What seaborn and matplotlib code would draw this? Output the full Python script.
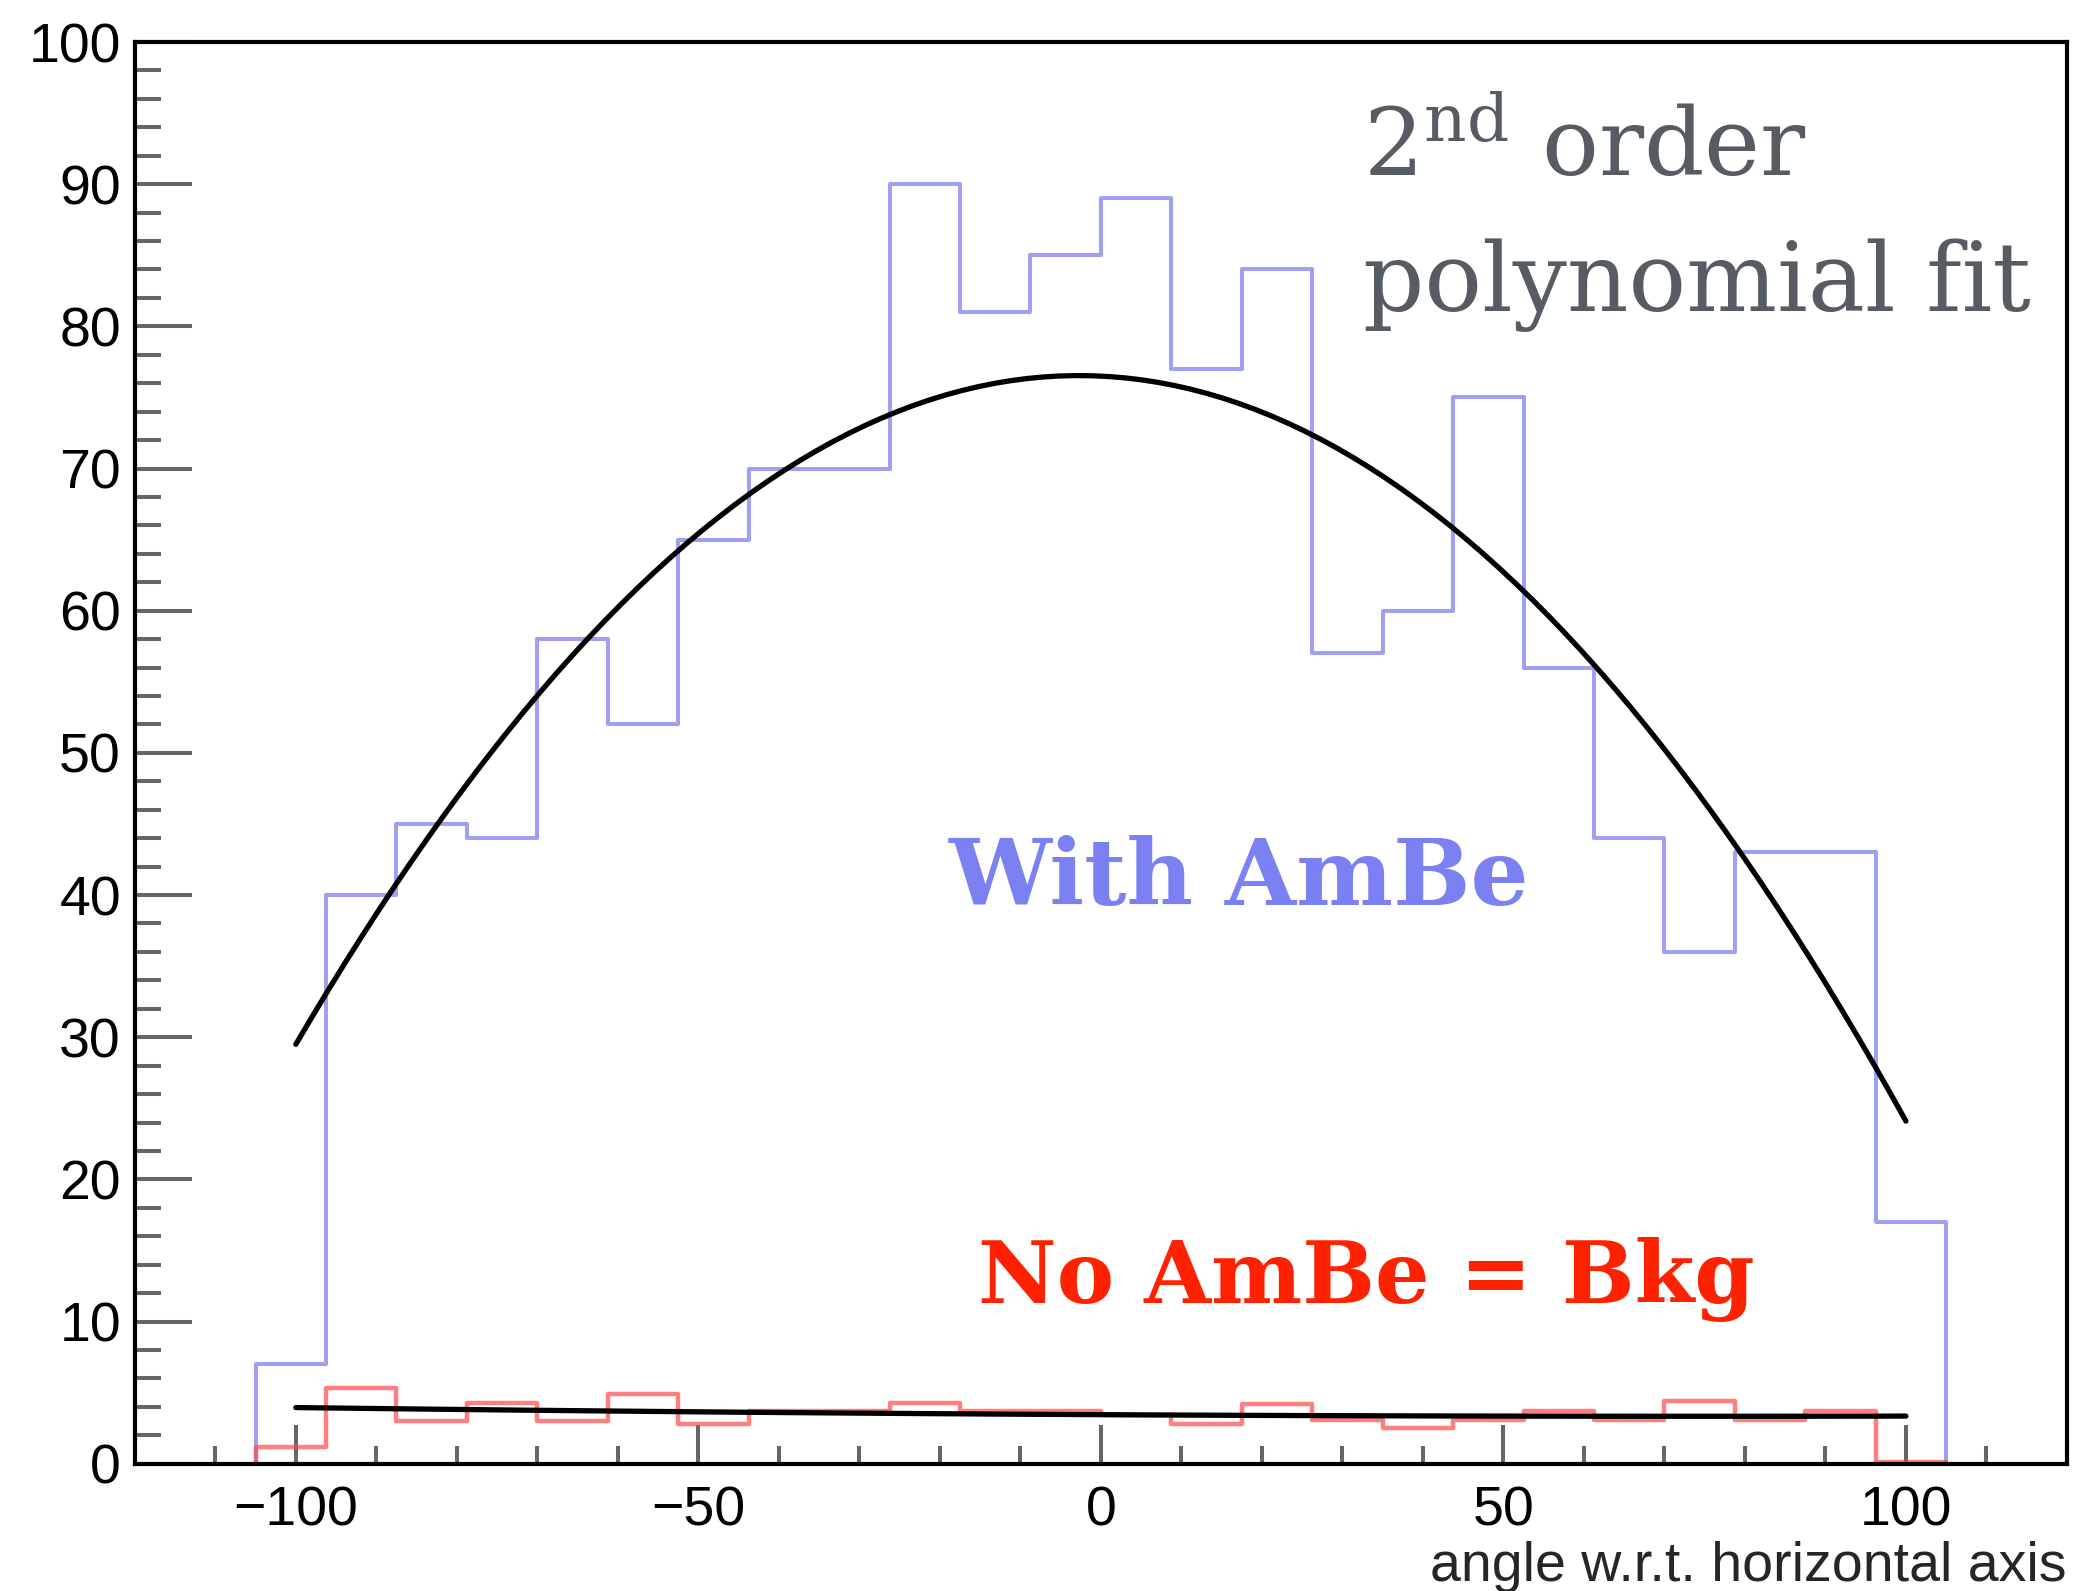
import numpy as np
import pandas as pd
import matplotlib
matplotlib.use("Agg")
import matplotlib.pyplot as plt
import seaborn as sns
from matplotlib.ticker import MultipleLocator

# ---------------- data ----------------
bin_edges = [-105.0, -96.25, -87.5, -78.75, -70.0, -61.25, -52.5, -43.75, -35.0,
             -26.25, -17.5, -8.75, 0.0, 8.75, 17.5, 26.25, 35.0, 43.75, 52.5,
             61.25, 70.0, 78.75, 87.5, 96.25, 105.0]
with_ambe = [7, 40, 45, 44, 58, 52, 65, 70, 70, 90, 81, 85,
             89, 77, 84, 57, 60, 75, 56, 44, 36, 43, 43, 17]
no_ambe = [1.2, 5.3, 3.0, 4.3, 3.0, 4.9, 2.8, 3.7, 3.7, 4.3, 3.7, 3.7,
           3.4, 2.8, 4.2, 3.1, 2.5, 3.1, 3.7, 3.1, 4.4, 3.1, 3.7, 0.1]
# 2nd order polynomial fit parameters p0 + p1*x + p2*x^2
fit_with_ambe = [76.5, -0.027, -0.00497]
fit_no_ambe = [3.45, -0.003, 0.00002]
fit_range = [-100, 100]
x_ticks = [-100, -50, 0, 50, 100]
y_ticks = [0, 10, 20, 30, 40, 50, 60, 70, 80, 90, 100]

# ---------------- style ----------------
sns.set_style("white")
plt.rcParams["font.family"] = ["Liberation Sans", "DejaVu Sans"]
plt.rcParams["mathtext.fontset"] = "dejavuserif"

fig = plt.figure(figsize=(20.74, 15.91), dpi=100)
ax = fig.add_axes([0.065, 0.080, 0.9316, 0.8936])

# histogram with a hair-thin empty bin on each side so the outline drops to zero
pad_w = 0.01
edges_ext = [bin_edges[0] - pad_w] + list(bin_edges) + [bin_edges[-1] + pad_w]
centers = [(a + b) / 2 for a, b in zip(edges_ext[:-1], edges_ext[1:])]
df = pd.DataFrame({"angle": centers,
                   "with": [0] + with_ambe + [0],
                   "without": [0] + no_ambe + [0]})

sns.histplot(data=df, x="angle", weights="with", bins=edges_ext, element="step",
             fill=False, color="#8e8ff0", linewidth=2.9, alpha=0.85, ax=ax, zorder=2)
sns.histplot(data=df, x="angle", weights="without", bins=edges_ext, element="step",
             fill=False, color="#ff4848", linewidth=3.2, alpha=0.7, ax=ax, zorder=2)

xf = np.linspace(fit_range[0], fit_range[1], 100)
yf1 = np.polynomial.polynomial.polyval(xf, fit_with_ambe)
yf2 = np.polynomial.polynomial.polyval(xf, fit_no_ambe)
sns.lineplot(x=xf, y=yf1, color="black", linewidth=3.8, ax=ax, sort=False, estimator=None)
sns.lineplot(x=xf, y=yf2, color="black", linewidth=3.8, ax=ax, sort=False, estimator=None)

ax.set_xlim(-120, 120)
ax.set_ylim(0, 100)
ax.set_xticks(x_ticks)
ax.set_xticklabels([str(v).replace("-", "\u2212") for v in x_ticks])
ax.set_yticks(y_ticks)
ax.xaxis.set_minor_locator(MultipleLocator(10))
ax.yaxis.set_minor_locator(MultipleLocator(2))
ax.tick_params(axis="both", which="both", bottom=True, left=True, top=False, right=False,
               direction="in", width=2.9, color="#666666")
ax.tick_params(axis="both", which="major", labelsize=40, labelcolor="black")
ax.tick_params(axis="y", which="major", length=41, pad=10)
ax.tick_params(axis="y", which="minor", length=19)
ax.tick_params(axis="x", which="major", length=28, pad=16)
ax.tick_params(axis="x", which="minor", length=13)
for s in ax.spines.values():
    s.set_color("black")
    s.set_linewidth(3.0)
    s.set_visible(True)
    s.set_zorder(3)

ax.set_ylabel("")
ax.set_xlabel("angle w.r.t. horizontal axis", fontsize=40, loc="right", labelpad=2)

ax.text(32.6, 90.6, r"2$^{\mathrm{nd}}$ order", fontsize=68, color="#575c63",
        family="DejaVu Serif", ha="left", va="baseline")
ax.text(32.6, 81.1, "polynomial fit", fontsize=69, color="#575c63",
        family="DejaVu Serif", ha="left", va="baseline")
ax.text(-18.9, 39.3, "With AmBe", fontsize=66, color="#7b80f2",
        family="DejaVu Serif", weight="bold", ha="left", va="baseline")
ax.text(-15.3, 11.3, "No AmBe = Bkg", fontsize=62, color="#ff2200",
        family="DejaVu Serif", weight="bold", ha="left", va="baseline")

fig.savefig("out.png", dpi=100)
